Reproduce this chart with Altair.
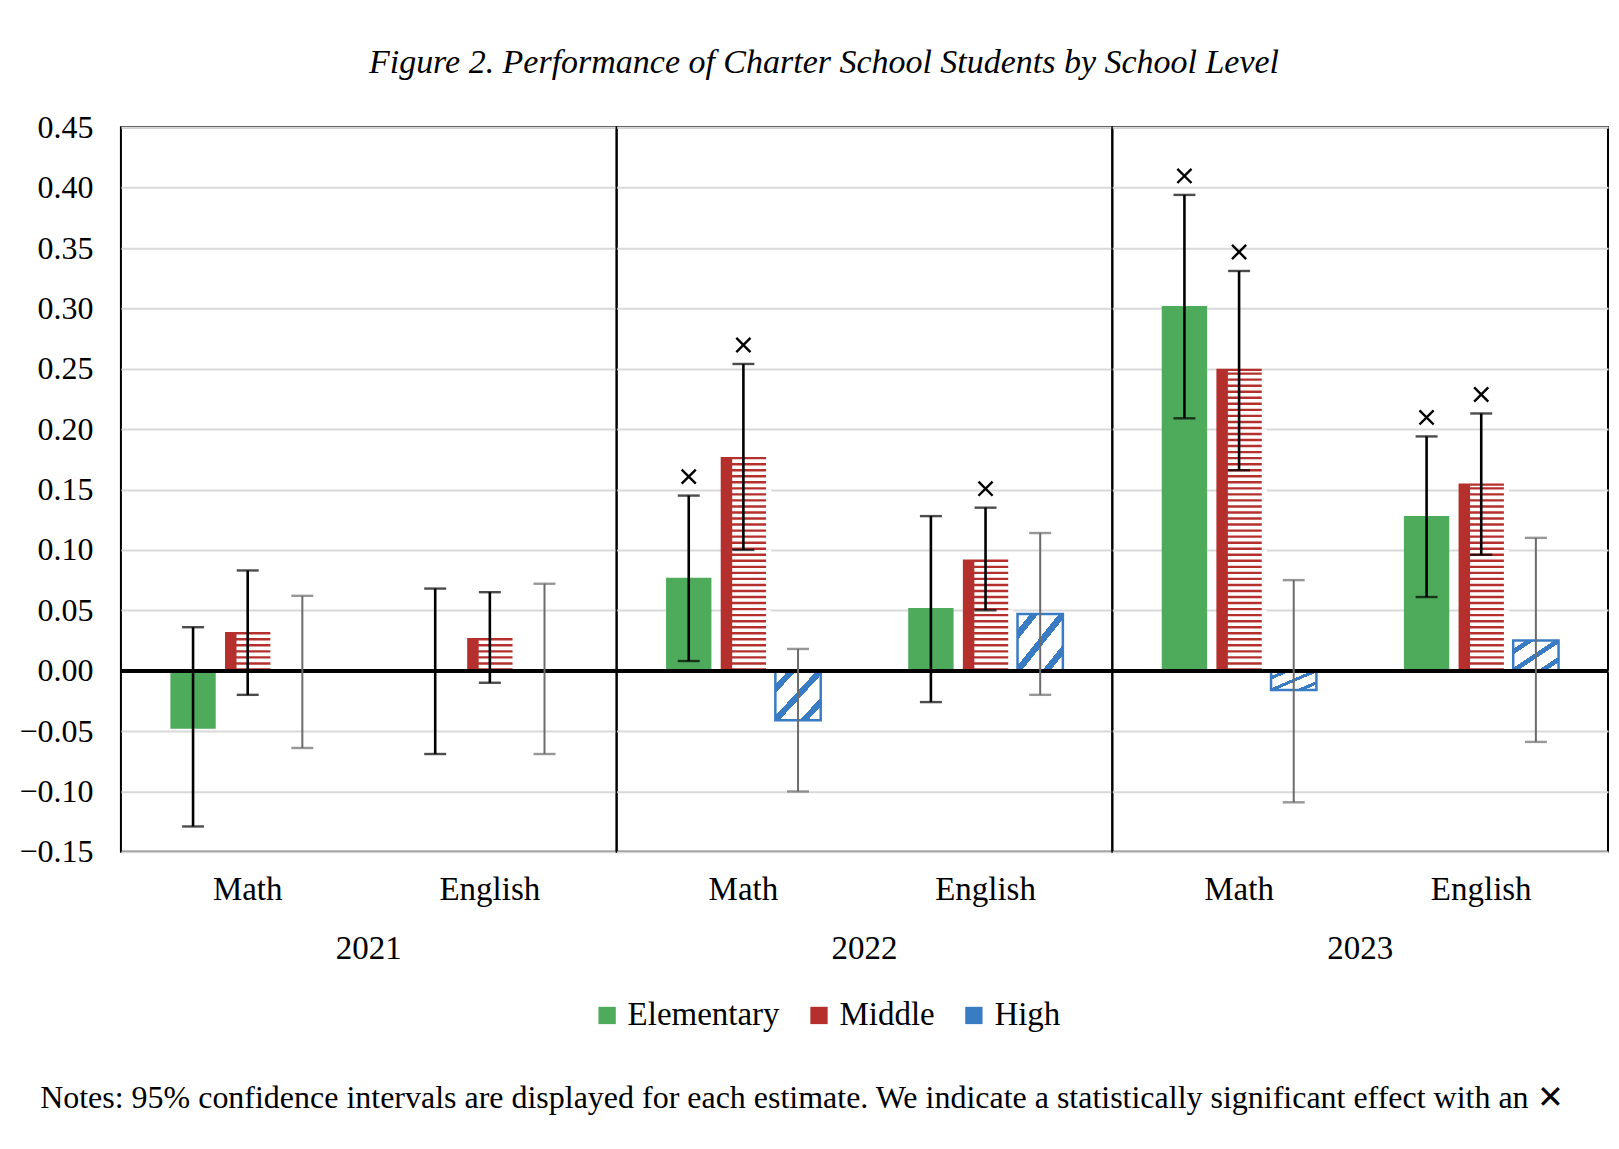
import altair as alt
import pandas as pd

SERIF = "Liberation Serif"

years = ["2021"] * 6 + ["2022"] * 6 + ["2023"] * 6
subjects = (["Math"] * 3 + ["English"] * 3) * 3
levels_col = ["Elementary", "Middle", "High"] * 6
estimate = [-0.048, 0.032, -0.001, -0.001, 0.027, 0.001,
            0.077, 0.177, -0.041, 0.052, 0.092, 0.047,
            0.302, 0.250, -0.016, 0.128, 0.155, 0.025]
ci_low = [-0.129, -0.020, -0.064, -0.069, -0.010, -0.069,
          0.008, 0.100, -0.100, -0.026, 0.050, -0.020,
          0.209, 0.166, -0.109, 0.061, 0.096, -0.059]
ci_high = [0.036, 0.083, 0.062, 0.068, 0.065, 0.072,
           0.145, 0.254, 0.018, 0.128, 0.135, 0.114,
           0.394, 0.331, 0.075, 0.194, 0.213, 0.110]
significant = [False] * 6 + [True, True, False, False, True, False] + [True, True, False, True, True, False]

level_order = ["Elementary", "Middle", "High"]
subject_order = ["Math", "English"]
level_colors = ["#4EAB5B", "#B5302D", "#3A7CC3"]
y_ticks = [-0.15, -0.10, -0.05, 0.00, 0.05, 0.10, 0.15, 0.20, 0.25, 0.30, 0.35, 0.40, 0.45]

FIG_TITLE = "Figure 2. Performance of Charter School Students by School Level"
NOTES = ("Notes: 95% confidence intervals are displayed for each estimate. "
         "We indicate a statistically significant effect with an \u2715")

df = pd.DataFrame({
    "year": years, "subject": subjects, "level": levels_col,
    "estimate": estimate, "ci_low": ci_low, "ci_high": ci_high,
    "significant": significant,
})

X = alt.X("subject:N", sort=subject_order,
          scale=alt.Scale(domain=subject_order, paddingInner=0.323, paddingOuter=0.185),
          axis=alt.Axis(title=None, labelAngle=0, ticks=False, domain=False, grid=False,
                        labelFont=SERIF, labelFontSize=33, labelColor="black", labelPadding=22))
XO = alt.XOffset("level:N", scale=alt.Scale(domain=level_order, paddingInner=0.17, paddingOuter=0.085))
YSCALE = alt.Scale(domain=[-0.15, 0.45], nice=False, zero=False)


def Y(field):
    return alt.Y(field, type="quantitative", scale=YSCALE, title=FIG_TITLE,
                 axis=alt.Axis(values=y_ticks, format=".2f", ticks=False, domain=False,
                               labelFont=SERIF, labelFontSize=32, labelColor="black", labelPadding=28,
                               grid=True, gridColor="#D9D9D9", gridWidth=2,
                               titleAngle=0, titleX=703, titleY=-65, titleAlign="center",
                               titleBaseline="middle", titleFont=SERIF, titleFontSize=34,
                               titleFontStyle="italic", titleFontWeight="normal", titleColor="black"))


base_bars = alt.Chart().mark_bar().encode(
    x=X, xOffset=XO, y=Y("estimate"), y2=alt.datum(0),
    color=alt.Color("level:N", scale=alt.Scale(domain=level_order, range=level_colors),
                    legend=alt.Legend(title=None, orient="none", legendX=470, legendY=872,
                                      direction="horizontal",
                                      labelFont=SERIF, labelFontSize=33, labelColor="black",
                                      symbolType="square", symbolSize=300, symbolStrokeWidth=0,
                                      labelOffset=4, columnPadding=22)),
)

# white stripes on the Middle bars (red shows through between them)
middle_stripes = alt.Chart().transform_filter(
    alt.datum.level == "Middle"
).transform_calculate(
    sgn="datum.estimate >= 0 ? 1 : -1", a="abs(datum.estimate)"
).transform_calculate(
    stripe="sequence(0, datum.a, 0.005)"
).transform_flatten(["stripe"]).transform_calculate(
    lo="datum.stripe + 0.002", hi="min(datum.stripe + 0.005, datum.a - 0.0018)"
).transform_filter("datum.hi - datum.lo > 0.0008").transform_calculate(
    s_lo="datum.sgn * datum.lo", s_hi="datum.sgn * datum.hi"
).mark_bar(color="white", width=alt.RelativeBandSize(0.86)).encode(
    x=X, xOffset=XO, y=Y("s_lo"), y2="s_hi:Q"
)

hatch = alt.LinearGradient(
    gradient="linear", x1=0, y1=0, x2=1, y2=1,
    stops=[
        alt.GradientStop(offset=0.0, color="white"),
        alt.GradientStop(offset=0.14, color="white"),
        alt.GradientStop(offset=0.14, color="#3A7CC3"),
        alt.GradientStop(offset=0.23, color="#3A7CC3"),
        alt.GradientStop(offset=0.23, color="white"),
        alt.GradientStop(offset=0.455, color="white"),
        alt.GradientStop(offset=0.455, color="#3A7CC3"),
        alt.GradientStop(offset=0.545, color="#3A7CC3"),
        alt.GradientStop(offset=0.545, color="white"),
        alt.GradientStop(offset=0.77, color="white"),
        alt.GradientStop(offset=0.77, color="#3A7CC3"),
        alt.GradientStop(offset=0.86, color="#3A7CC3"),
        alt.GradientStop(offset=0.86, color="white"),
        alt.GradientStop(offset=1.0, color="white"),
    ],
)

high_hatch = alt.Chart().transform_filter(
    (alt.datum.level == "High") & (alt.expr.abs(alt.datum.estimate) > 0.003)
).mark_bar(fill=hatch, stroke="#3A7CC3", strokeWidth=2.5).encode(
    x=X, xOffset=XO, y=Y("estimate"), y2=alt.datum(0)
)

err_color = alt.condition(alt.datum.level == "High", alt.value("#6B6B6B"), alt.value("black"))
err_width = alt.condition(alt.datum.level == "High", alt.value(2), alt.value(2.6))

err_rule = alt.Chart().mark_rule().encode(
    x=X, xOffset=XO, y=Y("ci_low"), y2="ci_high:Q", color=err_color, strokeWidth=err_width
)
cap_low = alt.Chart().mark_tick(orient="horizontal", size=22, thickness=2.4).encode(
    x=X, xOffset=XO, y=Y("ci_low"), color=err_color
)
cap_high = alt.Chart().mark_tick(orient="horizontal", size=22, thickness=2.4).encode(
    x=X, xOffset=XO, y=Y("ci_high"), color=err_color
)

zero_line = alt.Chart().mark_rule(color="black", strokeWidth=3.5).encode(y=alt.datum(0))

sig_marks = alt.Chart().transform_filter(alt.datum.significant == True).mark_point(
    shape="M-1,-1L1,1M-1,1L1,-1", size=200, stroke="black", strokeWidth=2.4,
    filled=False, yOffset=-19, opacity=1
).encode(x=X, xOffset=XO, y=Y("ci_high"))

layers = alt.layer(
    base_bars, middle_stripes, high_hatch, zero_line, err_rule, cap_low, cap_high, sig_marks
).properties(width=496, height=725)

chart = layers.facet(
    column=alt.Column("year:N", title=None,
                      header=alt.Header(labelOrient="bottom",
                                        labelFont=SERIF, labelFontSize=33, labelColor="black",
                                        labelPadding=26)),
    data=df,
    spacing=0,
).properties(
    title=alt.Title(text=NOTES, orient="bottom", anchor="middle", font=SERIF, fontSize=32,
                    fontWeight="normal", color="black", offset=50, dx=-13),
    padding={"left": 10, "top": 37, "right": 0, "bottom": 10},
    bounds="flush",
).configure_view(stroke="black", strokeWidth=2).configure_facet(spacing=0)

chart.save("out.html", embed_options={"renderer": "svg", "actions": False})
